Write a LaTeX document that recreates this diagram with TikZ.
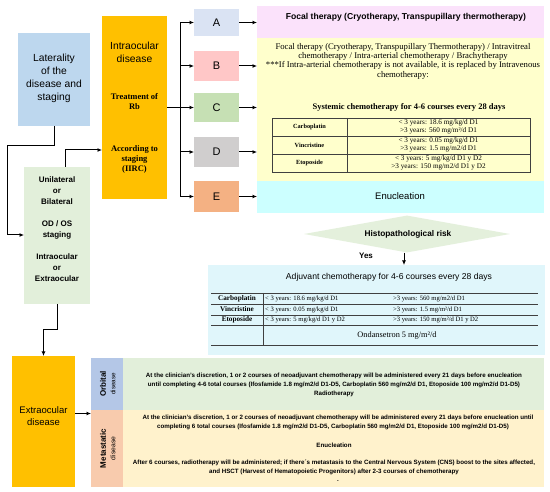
\documentclass[tikz,border=0pt]{standalone}
\usepackage{fontspec}
\setmainfont{Liberation Sans}
\newfontfamily\seriffont{Liberation Serif}
\usetikzlibrary{arrows.meta,shapes.geometric}
\definecolor{latblue}{HTML}{BDD7EE}
\definecolor{orangeB}{HTML}{FFC000}
\definecolor{lgreen}{HTML}{E2EFDA}
\definecolor{Abox}{HTML}{DAE3F3}
\definecolor{Bbox}{HTML}{FFC7C7}
\definecolor{Cbox}{HTML}{C6E0B4}
\definecolor{Dbox}{HTML}{D0CECE}
\definecolor{Ebox}{HTML}{F4B183}
\definecolor{pinkp}{HTML}{FBE2FB}
\definecolor{yellowp}{HTML}{FFFFCC}
\definecolor{cyanp}{HTML}{CCFFFF}
\definecolor{diamg}{HTML}{E4F0DC}
\definecolor{adjc}{HTML}{E0F6FB}
\definecolor{orbl}{HTML}{B4C7E7}
\definecolor{metl}{HTML}{F8CBAD}
\definecolor{metb}{HTML}{FFF2CC}
\newcommand\fs[2]{\fontsize{#1}{#2}\selectfont}
\begin{document}
\begin{tikzpicture}[x=1pt,y=-1pt,
  rbox/.style={inner sep=0pt,outer sep=0pt,anchor=north west,draw=none},
  arr/.style={-{Latex[length=4.5pt,width=4pt]},line width=1pt},
  conn/.style={line width=1pt},
  txt/.style={inner sep=0pt,align=center},
  tline/.style={line width=0.6pt,draw=black!75},
  lettr/.style={font=\fs{11}{13}},
  ytab/.style={inner sep=0pt,align=center,font=\seriffont\fs{7.2}{8.2}},
  ytabh/.style={inner sep=0pt,align=center,font=\seriffont\bfseries\fs{6.3}{8}},
  atab/.style={inner sep=0pt,anchor=west,font=\seriffont\fs{6.6}{8}},
  atabh/.style={inner sep=0pt,font=\seriffont\bfseries\fs{7.2}{8}},
  small/.style={inner sep=0pt,align=center,font=\bfseries\fs{6.2}{9}},
]
\useasboundingbox[fill=white] (0,0) rectangle (550,492);

% left column
\node[rbox,fill=latblue,minimum width=72pt,minimum height=93pt] (lat) at (18,33) {};
\node[txt,font=\fs{10.3}{13}] (lattxt) at (54,78.5) {Laterality\\of the\\disease and\\staging};

\node[rbox,fill=orangeB,minimum width=65pt,minimum height=183pt] (intra) at (102,16) {};
\node[txt,font=\fs{10.3}{13}] (intratxt) at (134.5,52.5) {Intraocular\\disease};
\node[txt,font=\seriffont\bfseries\fs{8.5}{10}] (trt) at (134.5,102) {Treatment of\\Rb};
\node[txt,font=\seriffont\bfseries\fs{8.5}{10}] (acc) at (134.5,159) {According to\\staging\\(IIRC)};

\node[rbox,fill=lgreen,minimum width=66pt,minimum height=137pt] (green) at (24,167) {};
\node[txt,font=\bfseries\fs{8}{11}] (g1) at (57,191) {Unilateral\\or\\Bilateral};
\node[txt,font=\bfseries\fs{8}{11}] (g2) at (57,229.5) {OD / OS\\staging};
\node[txt,font=\bfseries\fs{8}{11}] (g3) at (57,268) {Intraocular\\or\\Extraocular};

% A-E boxes
\node[rbox,fill=Abox,minimum width=45pt,minimum height=27pt] (A) at (194,9) {};
\node[rbox,fill=Bbox,minimum width=45pt,minimum height=30pt] (B) at (194,51) {};
\node[rbox,fill=Cbox,minimum width=45pt,minimum height=29pt] (C) at (194,93) {};
\node[rbox,fill=Dbox,minimum width=45pt,minimum height=30pt] (D) at (194,137) {};
\node[rbox,fill=Ebox,minimum width=45pt,minimum height=31pt] (E) at (194,181) {};
\foreach \b in {A,B,C,D,E} \node[lettr] (\b t) at (\b.center) {\b};

% right panels
\node[rbox,fill=pinkp,minimum width=287pt,minimum height=32pt] (pink) at (257,6) {};
\node[rbox,fill=yellowp,minimum width=287pt,minimum height=143pt] (yellow) at (257,38) {};
\node[rbox,fill=cyanp,minimum width=287pt,minimum height=32pt] (cyanb) at (257,181) {};

\node[txt,font=\bfseries\fs{8.6}{10}] (pinktxt) at (406,17.5) {Focal therapy (Cryotherapy, Transpupillary thermotherapy)};
\node[txt,font=\seriffont\fs{8.7}{9.3},anchor=north] (ytxt) at (403,43) {Focal therapy (Cryotherapy, Transpupillary Thermotherapy) / Intravitreal\\chemotherapy / Intra-arterial chemotherapy / Brachytherapy\\***If Intra-arterial chemotherapy is not available, it is replaced by Intravenous\\chemotherapy:};
\node[txt,font=\seriffont\bfseries\fs{8.5}{9}] (systxt) at (409,107) {Systemic chemotherapy for 4-6 courses every 28 days};

% yellow table
\draw[tline] (272,118) rectangle (530,172);
\draw[tline] (272,136) -- (530,136);
\draw[tline] (272,154) -- (530,154);
\draw[tline] (347,118) -- (347,172);
\node[ytabh] (yc1) at (309.5,127) {Carboplatin};
\node[ytabh] (yv1) at (309.5,145) {Vincristine};
\node[ytabh] (ye1) at (309.5,163) {Etoposide};
\node[ytab] (yc2) at (438.5,127) {< 3 years: 18.6 mg/kg/d D1\\>3 years: 560 mg/m²/d D1};
\node[ytab] (yv2) at (438.5,145) {< 3 years: 0.05 mg/kg/d D1\\>3 years: 1.5 mg/m2/d D1};
\node[ytab] (ye2) at (438.5,163) {< 3 years: 5 mg/kg/d D1 y D2\\>3 years: 150 mg/m2/d D1 y D2};

\node[txt,font=\fs{9.5}{11}] (enutxt) at (400,196) {Enucleation};

% diamond
\node[diamond,aspect=5.7,fill=diamg,draw=none,inner sep=0pt,minimum width=206pt,minimum height=37pt] (diam) at (407,234) {};
\node[txt,font=\bfseries\fs{8.3}{9}] (diamtxt) at (408,234) {Histopathological risk};
\node[txt,font=\bfseries\fs{8}{9}] (yes) at (366,256) {Yes};

% adjuvant box
\node[rbox,fill=adjc,minimum width=337pt,minimum height=90pt] (adj) at (208,265) {};
\node[txt,font=\fs{8.6}{9}] (adjtxt) at (389,277.5) {Adjuvant chemotherapy for 4-6 courses every 28 days};
\foreach \yy in {293,304,315,325,345} \draw[tline] (211,\yy) -- (538,\yy);
\draw[tline] (263,293) -- (263,345);
\node[atabh] (ac1) at (237,298.5) {Carboplatin};
\node[atabh] (av1) at (237,309.5) {Vincristine};
\node[atabh] (ae1) at (237,320) {Etoposide};
\node[atab] (ac2) at (265,298.5) {< 3 years: 18.6 mg/kg/d D1};
\node[atab] (av2) at (265,309.5) {< 3 years: 0.05 mg/kg/d D1};
\node[atab] (ae2) at (265,320) {< 3 years: 5 mg/kg/d D1 y D2};
\node[atab] (ac3) at (393,298.5) {>3 years: 560 mg/m2/d D1};
\node[atab] (av3) at (393,309.5) {>3 years: 1.5 mg/m²/d D1};
\node[atab] (ae3) at (393,320) {>3 years: 150 mg/m²/d D1 y D2};
\node[txt,font=\seriffont\fs{8.3}{9}] (ond) at (397,336) {Ondansetron 5 mg/m²/d};

% extraocular
\node[rbox,fill=orangeB,minimum width=63pt,minimum height=131pt] (extra) at (12,356) {};
\node[txt,font=\fs{9.5}{12}] (extratxt) at (43.5,416) {Extraocular\\disease};
\node[rbox,fill=orbl,minimum width=32pt,minimum height=52pt] (orblab) at (91,358) {};
\node[rbox,fill=lgreen,minimum width=421pt,minimum height=52pt] (orbbody) at (123,358) {};
\node[rbox,fill=metl,minimum width=32pt,minimum height=77pt] (metlab) at (91,410) {};
\node[rbox,fill=metb,minimum width=421pt,minimum height=77pt] (metbody) at (123,410) {};
\node[txt,rotate=90,font=\bfseries\fs{8}{9}] (orbt1) at (103,384) {Orbital};
\node[txt,rotate=90,font=\fs{6.3}{7}] (orbt2) at (113,384) {disease};
\node[txt,rotate=90,font=\bfseries\fs{8}{9}] (mett1) at (103,448.5) {Metastatic};
\node[txt,rotate=90,font=\fs{6.8}{7}] (mett2) at (113,448.5) {disease};

\node[small] (o1) at (334,376) {At the clinician's discretion, 1 or 2 courses of neoadjuvant chemotherapy will be administered every 21 days before enucleation};
\node[small] (o2) at (334,385) {until completing 4-6 total courses (Ifosfamide 1.8 mg/m2/d D1-D5, Carboplatin 560 mg/m2/d D1, Etoposide 100 mg/m2/d D1-D5)};
\node[small] (o3) at (334,394) {Radiotherapy};
\node[small] (m1) at (338,418) {At the clinician's discretion, 1 or 2 courses of neoadjuvant chemotherapy will be administered every 21 days before enucleation until};
\node[small] (m2) at (333,427) {completing 6 total courses (Ifosfamide 1.8 mg/m2/d D1-D5, Carboplatin 560 mg/m2/d D1, Etoposide 100 mg/m2/d D1-D5)};
\node[small] (m3) at (334,445) {Enucleation};
\node[small] (m4) at (334,463) {After 6 courses, radiotherapy will be administered; if there´s metastasis to the Central Nervous System (CNS) boost to the sites affected,};
\node[small] (m5) at (334,472) {and HSCT (Harvest of Hematopoietic Progenitors) after 2-3 courses of chemotherapy};
\node[small] (m6) at (338,481) {.};

% connectors
\coordinate (k1) at (7,235);
\draw[arr] (lat.south) -- ++(0,20) -| (k1) -- (k1 -| green.west);
\coordinate (gn) at ([xshift=8pt]green.north);
\coordinate (k2) at (0,150);
\draw[arr] (gn) |- (k2 -| intra.west);
\draw[arr] (green.south) -- ++(0,26) -| (extra.north);
\coordinate (bus) at (180,107.5);
\draw[conn] (intra.east) -- (bus);
\foreach \b in {A,B,C,D,E} \draw[arr] (bus) |- (\b.west);
\draw[arr] (A.east) -- (A.east -| pink.west);
\draw[arr] (B.east) -- (B.east -| yellow.west);
\draw[arr] (C.east) -- (C.east -| yellow.west);
\draw[arr] (D.east) -- (D.east -| yellow.west);
\draw[arr] (E.east) -- (E.east -| cyanb.west);
\draw[arr] ([xshift=-3pt]diam.south) -- ([xshift=-3pt]diam.south |- adj.north);
\coordinate (ex) at ([yshift=8pt]extra.east);
\draw[arr] (ex) -- (ex -| metlab.west);
\end{tikzpicture}
\end{document}
